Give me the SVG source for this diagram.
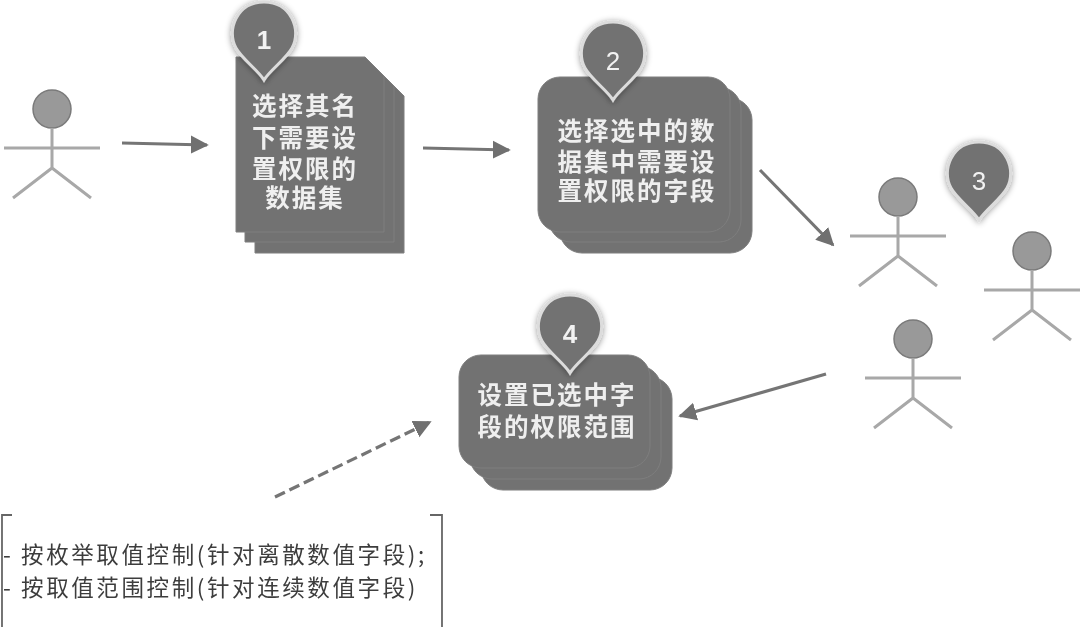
<svg xmlns="http://www.w3.org/2000/svg" width="1080" height="627" viewBox="0 0 1080 627">
<style>
.box{fill:#727272;stroke:#7e7e7e;stroke-width:1}
.pin{fill:#727272;stroke:#dcdcdc;stroke-width:3;filter:url(#shadow)}
.lbl{font-family:"Liberation Sans","Noto Sans CJK SC",sans-serif;font-size:24.5px;font-weight:700;fill:#efefef;text-anchor:middle;letter-spacing:2px}
.num{font-family:"Liberation Sans","Noto Sans CJK SC",sans-serif;font-size:26px;fill:#f2f2f2;text-anchor:middle}
.note{font-family:"Noto Sans CJK SC",sans-serif;font-size:22.5px;letter-spacing:2.6px;fill:#3c3c3c}
.limb{fill:none;stroke:#a8a8a8;stroke-width:3}
.head{fill:#999;stroke:#7a7a7a;stroke-width:1.5}
.arrow{fill:none;stroke:#757575;stroke-width:3.2;marker-end:url(#ah)}
.brk{fill:none;stroke:#666;stroke-width:1.8}
</style>
<defs>
<filter id="soft" x="-5%" y="-5%" width="110%" height="110%"><feGaussianBlur stdDeviation="0.7"/></filter>
<filter id="shadow" x="-30%" y="-30%" width="160%" height="160%"><feDropShadow dx="0" dy="1" stdDeviation="3" flood-color="#000" flood-opacity="0.42"/></filter>
<marker id="ah" viewBox="0 0 10 10" refX="9" refY="5" markerUnits="userSpaceOnUse" markerWidth="18" markerHeight="24" orient="auto"><path d="M0 0L10 5L0 10Z" fill="#6f6f6f"/></marker>
<path id="pinshape" d="M0 0C-6 -10 -22 -21 -28 -32C-38 -50 -27 -78 0 -78C27 -78 38 -50 28 -32C22 -21 6 -10 0 0Z"/>
<g id="person">
<circle class="head" cx="0" cy="0" r="19"/>
<path class="limb" d="M0 19V59M-48 39H48M-39 89L0 59L39 89"/>
</g>
</defs>
<rect width="1080" height="627" fill="#fff"/>
<g filter="url(#soft)">
<g id="connectors">
<path class="arrow" d="M122 143L207 145"/>
<path class="arrow" d="M423 148L509 150"/>
<path class="arrow" d="M760 170L833 245"/>
<path class="arrow" d="M826 374L680 416"/>
<path class="arrow" stroke-dasharray="11 5" d="M275 497L430 422"/>
</g>
<g id="actor-0"><use href="#person" x="52" y="109"/></g>
<g id="doc-1">
<path class="box" d="M255 77H385L404 96V253H255Z"/>
<path class="box" d="M245 67H375L394 86V242H245Z"/>
<path class="box" d="M236 57H365L384 76V232H236Z"/>
<text class="lbl" x="305" y="115">选择其名</text>
<text class="lbl" x="305" y="147">下需要设</text>
<text class="lbl" x="305" y="178">置权限的</text>
<text class="lbl" x="305" y="207">数据集</text>
<use class="pin" href="#pinshape" x="264" y="80"/>
<text class="num" x="264" y="49" font-weight="700">1</text>
</g>
<g id="doc-2">
<rect class="box" x="560" y="98" width="192" height="155" rx="22"/>
<rect class="box" x="549" y="87" width="192" height="155" rx="22"/>
<rect class="box" x="538" y="77" width="192" height="155" rx="22"/>
<text class="lbl" x="637" y="140">选择选中的数</text>
<text class="lbl" x="637" y="171">据集中需要设</text>
<text class="lbl" x="637" y="200">置权限的字段</text>
<use class="pin" href="#pinshape" x="613" y="100"/>
<text class="num" x="613" y="70">2</text>
</g>
<g id="actor-1"><use href="#person" x="898" y="197"/></g>
<g id="actor-2"><use href="#person" x="1032" y="251"/></g>
<g id="actor-3"><use href="#person" x="913" y="339"/></g>
<g id="pin-3">
<use class="pin" href="#pinshape" x="979" y="220"/>
<text class="num" x="979" y="190">3</text>
</g>
<g id="doc-4">
<rect class="box" x="481" y="377" width="191" height="113" rx="22"/>
<rect class="box" x="470" y="366" width="191" height="113" rx="22"/>
<rect class="box" x="459" y="355" width="191" height="113" rx="22"/>
<text class="lbl" x="557" y="404">设置已选中字</text>
<text class="lbl" x="557" y="436">段的权限范围</text>
<use class="pin" href="#pinshape" x="570" y="373"/>
<text class="num" x="570" y="343" font-family="Liberation Serif" font-weight="700">4</text>
</g>
<g id="note">
<path class="brk" d="M12 515H2V627"/>
<path class="brk" d="M430 515H442V627"/>
<text class="note" x="3" y="563">- 按枚举取值控制(针对离散数值字段);</text>
<text class="note" x="3" y="596">- 按取值范围控制(针对连续数值字段)</text>
</g>
</g>
</svg>
